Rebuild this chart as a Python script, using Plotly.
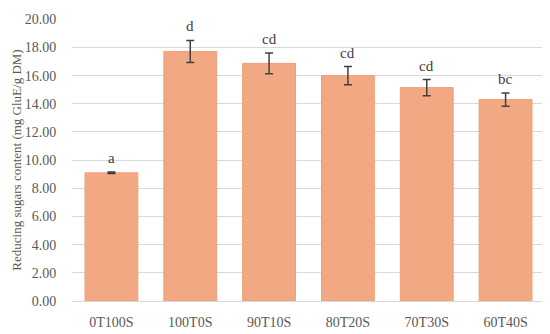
import plotly.graph_objects as go

categories = ["0T100S", "100T0S", "90T10S", "80T20S", "70T30S", "60T40S"]
values = [9.10, 17.72, 16.87, 16.00, 15.15, 14.30]
errors = [0.05, 0.78, 0.73, 0.64, 0.57, 0.47]
letters = ["a", "d", "cd", "cd", "cd", "bc"]
y_ticks = [0, 2, 4, 6, 8, 10, 12, 14, 16, 18, 20]

FONT = "Palatino Linotype, Book Antiqua, Palatino, Liberation Serif, serif"

fig = go.Figure()
fig.add_trace(go.Bar(
    x=categories, y=values,
    marker=dict(color="#F2A983", line=dict(color="#EE9F78", width=1)),
    width=0.67,
    error_y=dict(type="data", array=errors, visible=True,
                 color="#404040", thickness=1.5, width=4),
))

for c, v, e, t in zip(categories, values, errors, letters):
    fig.add_annotation(x=c, y=v + e, text=t, showarrow=False,
                       yanchor="bottom", yshift=4,
                       font=dict(family=FONT, size=15, color="#404040"))

# page body has an 8px default margin, so the figure is sized to fit
fig.update_layout(
    width=542, height=326,
    margin=dict(l=64, r=5, t=4, b=32),
    plot_bgcolor="white", paper_bgcolor="white",
    font=dict(family=FONT, size=14, color="#595959"),
    showlegend=False,
)
fig.update_xaxes(
    showgrid=False, showline=False, ticks="outside", ticklen=8,
    tickcolor="rgba(0,0,0,0)", tickfont=dict(size=14),
)
fig.update_yaxes(
    range=[0, 20.02], tickvals=y_ticks,
    ticktext=[f"{v:.2f}" for v in y_ticks],
    ticklabeloverflow="allow",
    showgrid=True, gridcolor="#D9D9D9", gridwidth=1.2,
    zeroline=True, zerolinecolor="#D9D9D9", zerolinewidth=1.2,
    ticks="outside", ticklen=12, tickcolor="rgba(0,0,0,0)",
    tickfont=dict(size=14),
    title=dict(text="Reducing sugars content (mg GluE/g DM)",
               font=dict(size=13), standoff=0),
)

fig.write_html("out.html")
